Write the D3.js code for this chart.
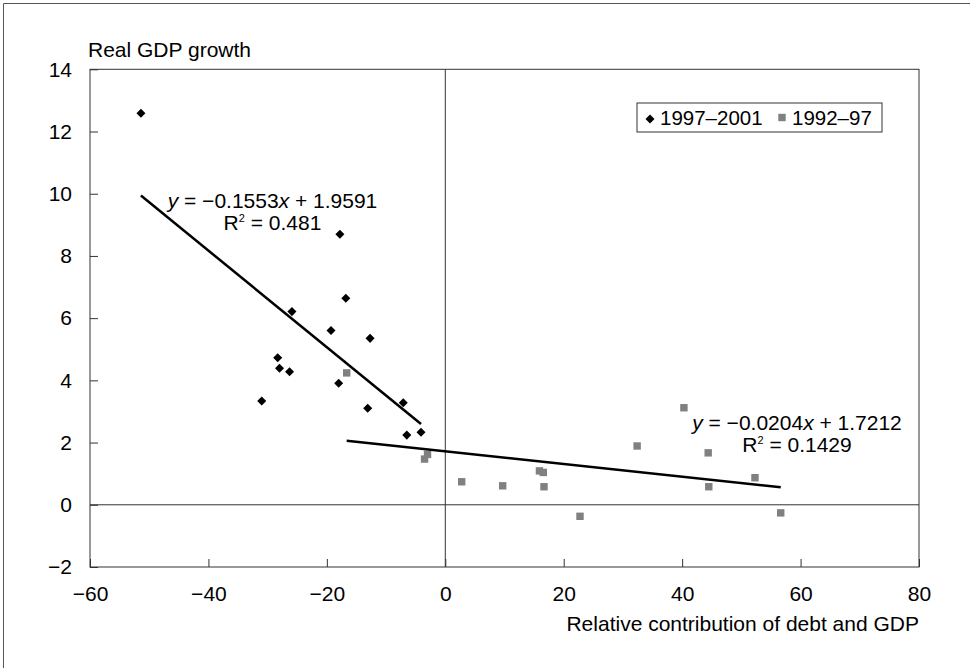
<!DOCTYPE html>
<html>
<head>
<meta charset="utf-8">
<script src="https://cdn.jsdelivr.net/npm/d3@7"></script>
<style>
  body { margin: 0; background: #fff; }
  text { font-family: "Liberation Sans", Arial, sans-serif; font-size: 21px; fill: #000; }
</style>
</head>
<body>
<script>
// 1997-2001 (diamonds)
var debt9701 = [-51.4, -17.8, -16.8, -25.9, -19.3, -12.7, -28.3, -28.0, -26.3, -18.0, -31.0, -7.1, -13.1, -6.5, -4.1];
var gdp9701  = [12.59, 8.70, 6.64, 6.21, 5.60, 5.35, 4.73, 4.39, 4.28, 3.91, 3.34, 3.28, 3.10, 2.24, 2.33];
// 1992-97 (squares)
var debt9297 = [-16.65, -3.5, -3.0, 2.77, 9.69, 15.9, 16.55, 16.67, 22.75, 32.4, 40.3, 44.4, 44.5, 52.3, 56.65];
var gdp9297  = [4.24, 1.47, 1.62, 0.74, 0.61, 1.09, 1.04, 0.58, -0.37, 1.89, 3.12, 1.67, 0.58, 0.87, -0.26];
// trend lines: slope, intercept, r2
var fit9701 = [-0.1553, 1.9591, "0.481"];
var fit9297 = [-0.0204, 1.7212, "0.1429"];
var xTicks = [-60, -40, -20, 0, 20, 40, 60, 80];
var yTicks = [-2, 0, 2, 4, 6, 8, 10, 12, 14];
var seriesNames = ["1997\u20132001", "1992\u201397"];

function init() {
  var w = 970, h = 668;
  var left = 90, right = 919, top = 69.3, bottom = 567;

  var svg = d3.select("body").append("svg")
    .attr("width", w).attr("height", h);

  // outer frame (cropped: only top and left visible)
  svg.append("path").attr("d", "M3.5," + h + "V3.5H" + w)
    .attr("fill", "none").attr("stroke", "#555").attr("stroke-width", 1);

  var x = d3.scaleLinear().domain([-60, 80]).range([left, right]);
  var y = d3.scaleLinear().domain([-2, 14]).range([bottom, top]);

  // zero lines
  svg.append("line").attr("x1", left).attr("x2", right)
    .attr("y1", y(0)).attr("y2", y(0)).attr("stroke", "#333");
  svg.append("line").attr("x1", x(0)).attr("x2", x(0))
    .attr("y1", top).attr("y2", bottom).attr("stroke", "#333");

  var minus = function(d){ return d < 0 ? "\u2212" + (-d) : d; };
  var xAxis = d3.axisBottom(x).tickValues(xTicks)
    .tickSizeInner(-8).tickSizeOuter(0).tickPadding(19).tickFormat(minus);
  var yAxis = d3.axisLeft(y).tickValues(yTicks)
    .tickSizeInner(-8).tickSizeOuter(0).tickPadding(18).tickFormat(minus);

  var gx = svg.append("g").attr("transform", "translate(0," + bottom + ")").call(xAxis);
  var gy = svg.append("g").attr("transform", "translate(" + left + ",0)").call(yAxis);
  [gx, gy].forEach(function(g){
    g.select(".domain").remove();
    g.selectAll("line").attr("stroke", "#333");
    g.selectAll("text").style("font-size", "21px")
      .style("font-family", "'Liberation Sans', Arial, sans-serif").attr("fill", "#000");
  });

  // plot border
  svg.append("rect").attr("x", left).attr("y", top)
    .attr("width", right - left).attr("height", bottom - top)
    .attr("fill", "none").attr("stroke", "#333").attr("stroke-width", 1);

  svg.append("text").attr("x", 88).attr("y", 57).text("Real GDP growth");
  svg.append("text").attr("x", right).attr("y", 631)
    .attr("text-anchor", "end").text("Relative contribution of debt and GDP");

  var d1 = debt9701.map(function(v, i){ return [v, gdp9701[i]]; });
  var d2 = debt9297.map(function(v, i){ return [v, gdp9297[i]]; });

  var diamond = d3.symbol().type(d3.symbolDiamond2).size(52);
  var square = d3.symbol().type(d3.symbolSquare).size(55);

  svg.selectAll("path.sq").data(d2).enter().append("path")
    .attr("class", "sq").attr("d", square)
    .attr("transform", function(d){ return "translate(" + x(d[0]) + "," + y(d[1]) + ")"; })
    .attr("fill", "#808080");

  svg.selectAll("path.dm").data(d1).enter().append("path")
    .attr("class", "dm").attr("d", diamond)
    .attr("transform", function(d){ return "translate(" + x(d[0]) + "," + y(d[1]) + ")"; })
    .attr("fill", "#000");

  // trend lines over each series' x range
  function trend(data, fit) {
    var ext = d3.extent(data, function(d){ return d[0]; });
    svg.append("line")
      .attr("x1", x(ext[0])).attr("y1", y(fit[0] * ext[0] + fit[1]))
      .attr("x2", x(ext[1])).attr("y2", y(fit[0] * ext[1] + fit[1]))
      .attr("stroke", "#000").attr("stroke-width", 2.5);
  }
  trend(d1, fit9701);
  trend(d2, fit9297);

  function equation(cx, by, fit) {
    var t = svg.append("text").attr("x", cx).attr("y", by).attr("text-anchor", "middle");
    t.append("tspan").style("font-style", "italic").text("y");
    t.append("tspan").text(" = \u2212" + (-fit[0]).toFixed(4));
    t.append("tspan").style("font-style", "italic").text("x");
    t.append("tspan").text(" + " + fit[1].toFixed(4));
    var r = svg.append("text").attr("x", cx).attr("y", by + 21.5).attr("text-anchor", "middle");
    r.append("tspan").text("R");
    r.append("tspan").attr("dy", -8).style("font-size", "11px").text("2");
    r.append("tspan").attr("dy", 8).text(" = " + fit[2]);
  }
  equation(272.5, 208, fit9701);
  equation(797, 430, fit9297);

  // legend
  var lg = svg.append("g");
  lg.append("rect").attr("x", 637).attr("y", 103).attr("width", 245).attr("height", 29)
    .attr("fill", "#fff").attr("stroke", "#333");
  lg.append("path").attr("d", diamond).attr("transform", "translate(650,119)").attr("fill", "#000");
  lg.append("text").attr("x", 660).attr("y", 124.5).style("font-size", "20.5px").text(seriesNames[0]);
  lg.append("path").attr("d", square).attr("transform", "translate(782,117.5)").attr("fill", "#808080");
  lg.append("text").attr("x", 792).attr("y", 124.5).style("font-size", "20.5px").text(seriesNames[1]);
}
window.onload = init;
</script>
</body>
</html>
